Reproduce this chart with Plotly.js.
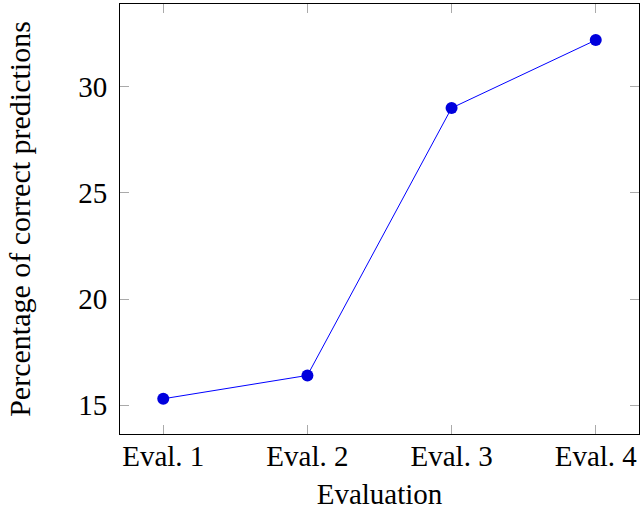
<!DOCTYPE html>
<html>
<head>
<meta charset="utf-8">
<script src="https://cdn.plot.ly/plotly-3.0.1.min.js"></script>
<style>html,body{margin:0;padding:0;background:#fff;}#chart{width:643px;height:513px;}</style>
</head>
<body>
<div id="chart"></div>
<script>
const categories = ["Eval. 1", "Eval. 2", "Eval. 3", "Eval. 4"];
const values = [15.3, 16.4, 29.0, 32.2];
const yTicks = [15, 20, 25, 30];

const font = {family: "Liberation Serif, DejaVu Serif, serif", size: 29, color: "#000"};
const yTitleFont = {family: "Liberation Serif, DejaVu Serif, serif", size: 30, color: "#000"};

const trace = {
  x: categories,
  y: values,
  type: "scatter",
  mode: "lines+markers",
  line: {color: "#0000ff", width: 1},
  marker: {color: "#0000dd", size: 12}
};

const layout = {
  width: 643, height: 513,
  margin: {l: 120, r: 4, t: 4, b: 79},
  paper_bgcolor: "#fff", plot_bgcolor: "#fff",
  showlegend: false,
  font: font,
  xaxis: {
    type: "category",
    range: [-0.3, 3.3],
    showgrid: false, zeroline: false,
    showline: true, linecolor: "#000", linewidth: 1, mirror: "ticks",
    ticks: "inside", ticklen: 9, tickcolor: "#aaa", tickwidth: 1,
    ticklabelstandoff: -4,
    tickfont: font,
    title: {text: "Evaluation", font: font, standoff: 12}
  },
  yaxis: {
    range: [13.64, 33.9],
    tickvals: yTicks,
    ticktext: yTicks.map(String),
    showgrid: false, zeroline: false,
    showline: true, linecolor: "#000", linewidth: 1, mirror: "ticks",
    ticks: "inside", ticklen: 9, tickcolor: "#aaa", tickwidth: 1,
    ticklabelstandoff: 6,
    tickfont: font,
    title: {text: "Percentage of correct predictions", font: yTitleFont, standoff: 38}
  }
};

Plotly.newPlot("chart", [trace], layout, {displayModeBar: false, staticPlot: true});
</script>
</body>
</html>
